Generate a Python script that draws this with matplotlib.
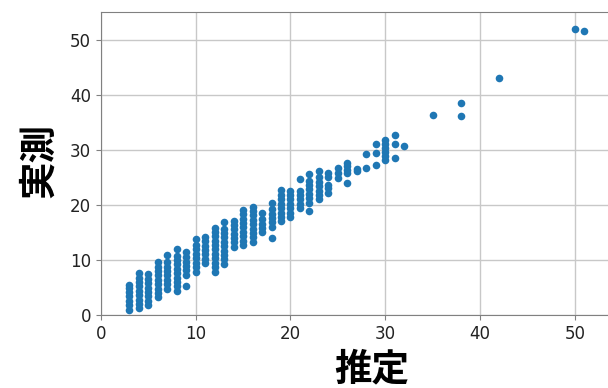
import matplotlib
matplotlib.use("Agg")
import matplotlib.pyplot as plt

# estimated value (x) -> measured values (y), one group per column of dots
est = ([3] * 7 + [4] * 9 + [5] * 8 + [6] * 9 + [7] * 8 + [8] * 10 + [9] * 7
       + [10] * 8 + [11] * 7 + [12] * 11 + [13] * 10 + [14] * 7 + [15] * 9
       + [16] * 9 + [17] * 5 + [18] * 7 + [19] * 8 + [20] * 7 + [21] * 6
       + [22] * 8 + [23] * 7 + [24] * 5 + [25] * 3 + [26] * 5 + [27] * 2
       + [28] * 2 + [29] * 3 + [30] * 6 + [31] * 3 + [32] + [35] + [38] * 2
       + [42] + [50] + [51])
act = [1.0, 1.8, 2.6, 3.4, 4.2, 5.0, 5.5,
       1.2, 2.0, 2.8, 3.6, 4.4, 5.2, 6.0, 6.8, 7.6,
       1.8, 2.6, 3.4, 4.2, 5.0, 5.8, 6.6, 7.4,
       3.2, 4.0, 4.8, 5.6, 6.4, 7.2, 8.0, 8.8, 9.7,
       4.8, 5.6, 6.4, 7.2, 8.0, 8.8, 9.6, 10.9,
       4.4, 5.2, 6.0, 6.8, 7.6, 8.4, 9.2, 10.0, 10.8, 11.9,
       5.3, 7.3, 8.1, 8.9, 9.7, 10.5, 11.5,
       7.9, 8.7, 9.5, 10.3, 11.1, 11.9, 12.7, 13.8,
       9.4, 10.2, 11.0, 11.8, 12.6, 13.4, 14.2,
       7.9, 8.7, 9.5, 10.3, 11.1, 11.9, 12.7, 13.5, 14.3, 15.0, 15.8,
       9.3, 10.1, 10.9, 11.7, 12.5, 13.3, 14.1, 14.9, 15.7, 16.9,
       12.4, 13.2, 14.0, 14.8, 15.6, 16.4, 17.1,
       12.7, 13.5, 14.3, 15.1, 15.9, 16.7, 17.5, 18.3, 19.0,
       13.3, 14.1, 14.9, 15.7, 16.5, 17.3, 18.1, 18.9, 19.7,
       15.0, 15.8, 16.6, 17.4, 18.5,
       14.0, 16.0, 16.8, 17.6, 18.4, 19.2, 20.3,
       17.0, 17.8, 18.6, 19.4, 20.2, 21.0, 21.8, 22.7,
       17.8, 18.6, 19.4, 20.2, 21.0, 21.8, 22.5,
       19.4, 20.2, 21.0, 21.8, 22.5, 24.7,
       18.8, 20.4, 21.2, 22.0, 22.8, 23.6, 24.3, 25.6,
       21.0, 21.8, 22.6, 23.4, 24.2, 25.0, 26.2,
       22.2, 23.0, 23.6, 25.0, 25.8,
       24.9, 25.7, 26.7,
       24.0, 25.7, 26.4, 27.0, 27.6,
       26.1, 26.6,
       26.7, 29.3,
       27.3, 29.5, 31.1,
       28.2, 28.9, 29.6, 30.3, 31.0, 31.7,
       28.5, 31.1, 32.6,
       30.6,
       36.4,
       36.1, 38.5,
       43.0,
       51.9,
       51.5]

xticks = [0, 10, 20, 30, 40, 50]
yticks = [0, 10, 20, 30, 40, 50]

fig = plt.figure(figsize=(6.08, 3.88), dpi=100)
# right edge runs past the figure, like the cropped original
ax = fig.add_axes([0.166, 0.188, 0.873, 0.781])
ax.scatter(est, act, s=30, color="#1f77b4", linewidths=0, zorder=3)

ax.set_xlim(0, 56)
ax.set_ylim(0, 55)
ax.set_xticks(xticks)
ax.set_yticks(yticks)
ax.grid(True, color="#c8c8c8", linewidth=1)
ax.set_axisbelow(True)
for s in ax.spines.values():
    s.set_color("#808080")
ax.tick_params(colors="#808080", labelcolor="#222222", labelsize=12)

jp = ["Noto Sans CJK JP", "DejaVu Sans"]
ax.set_xlabel("推定", family=jp, fontsize=27, fontweight="bold")
ax.set_ylabel("実測", family=jp, fontsize=27, fontweight="bold")
ax.xaxis.set_label_coords(0.51, -0.115)
ax.yaxis.set_label_coords(-0.08, 0.51)

fig.savefig("out.png", dpi=100)
